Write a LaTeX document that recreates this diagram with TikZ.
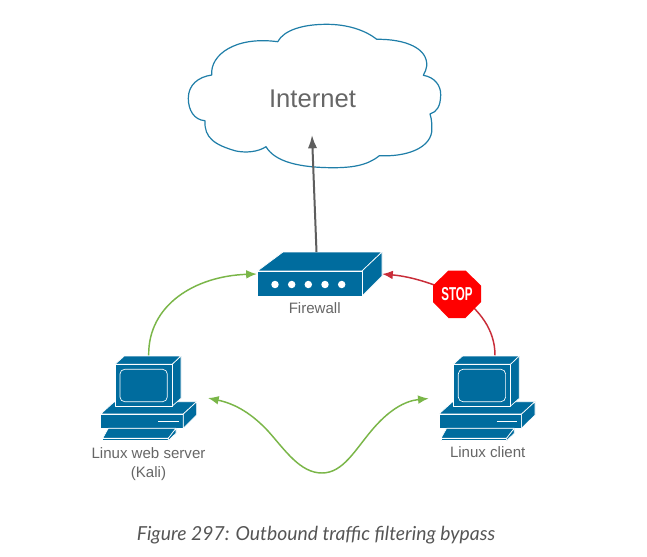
\documentclass[tikz,border=0pt]{standalone}
\usepackage{fontspec}
\usetikzlibrary{arrows.meta,calc}
\newfontfamily\lblfont{Liberation Sans}
\newfontfamily\capfont{Lato}
\definecolor{netblue}{HTML}{006C9E}
\definecolor{cloudline}{HTML}{1F7EA8}
\definecolor{txtgray}{HTML}{666666}
\definecolor{capgray}{HTML}{555555}
\definecolor{lnkgreen}{HTML}{7AB648}
\definecolor{lnkred}{HTML}{C92D39}
\definecolor{lnkgray}{HTML}{5E5E5E}
\definecolor{stopred}{HTML}{FF0000}
\tikzset{
  x=0.75pt,y=-0.75pt,
  face/.style={fill=netblue,draw=white,line width=0.5pt,line join=round},
  lbl/.style={text=txtgray,font=\lblfont\fontsize{11.3}{13}\selectfont,align=center,inner sep=0pt},
  anchorbox/.style={inner sep=0pt,outer sep=0pt,minimum width=#1},
  greenlink/.style={draw=lnkgreen,line width=1.1pt},
  redlink/.style={draw=lnkred,line width=1.1pt},
  graylink/.style={draw=lnkgray,line width=1.5pt,-{Latex[length=10pt,width=7pt]}},
  computer/.pic={
    % base
    \path[face] (114,402) -- (100.7,414) -- (183.3,414) -- (196.7,401.7) -- (180,401.7) -- cycle;
    \path[face] (100.7,414) -- (183.3,414) -- (183.3,428.3) -- (100.7,428.3) -- cycle;
    \path[face] (183.3,414) -- (196.7,401.7) -- (196.7,415) -- (183.3,428.3) -- cycle;
    \draw[white,line width=1pt] (158.3,421.7) -- (179,421.7);
    % keyboard
    \path[face] (108.3,428.3) -- (176,428.3) -- (168.3,438.3) -- (102.7,438.3) -- cycle;
    \path[face] (102.7,438.3) -- (168.3,438.3) -- (168.3,440.7) -- (102.7,440.7) -- cycle;
    \path[face] (168.3,438.3) -- (176,428.3) -- (176,433.3) -- (168.3,440.7) -- cycle;
    % monitor
    \path[face] (115,364.3) -- (124.3,356) -- (181,356) -- (172.3,364.3) -- cycle;
    \path[face] (172.3,364.3) -- (181,356) -- (181,398.3) -- (172.3,406) -- cycle;
    \path[face] (115,364.3) -- (172.3,364.3) -- (172.3,406) -- (115,406) -- cycle;
    \draw[white,line width=0.5pt,rounded corners=3.5pt] (120,369.3) rectangle (167.3,401.7);
  }
}
\begin{document}
\begin{tikzpicture}
\useasboundingbox (0,0) rectangle (647,557);
\fill[white] (0,0) rectangle (647,557);

% cloud
\draw[cloudline,line width=0.9pt,fill=white,line join=round]
  (277.7,41.7) .. controls (284,30) and (303,24.3) .. (326.7,24.3)
  .. controls (347,24.3) and (365,30) .. (376.7,39.3)
  .. controls (405,39) and (428,48) .. (426.7,66)
  .. controls (426.5,69) and (425,72) .. (423.3,75.3)
  .. controls (434,77) and (441,85) .. (440.7,95)
  .. controls (440.5,106) and (437,112) .. (430,114)
  .. controls (432,120) and (432,126) .. (431.7,132)
  .. controls (429,149) and (405,157) .. (379.3,155.7)
  .. controls (367,166) and (350,167.7) .. (333.3,167.7)
  .. controls (300,167.7) and (275,162) .. (266,146.7)
  .. controls (258,152) and (246,153) .. (236,151)
  .. controls (215,145) and (204,138) .. (205,120.7)
  .. controls (194,120) and (188.3,110) .. (188.3,98.3)
  .. controls (188.3,85) and (198,77) .. (211.7,75)
  .. controls (210,55) and (235,36) .. (277.7,41.7) -- cycle;
\node[text=txtgray,font=\lblfont\fontsize{19.2}{22}\selectfont,inner sep=0pt] (internet) at (312.5,98.5) {Internet};
\coordinate (cloudin) at (312,135);

% firewall
\node[anchorbox=94pt,minimum height=33pt] (firewall) at (319.5,274) {};
\path[face] (257.5,271) -- (283,252) -- (382,252) -- (362,271) -- cycle;
\path[face] (362,271) -- (382,252) -- (382,276) -- (362,296) -- cycle;
\path[face] (257.5,271) -- (362,271) -- (362,296) -- (257.5,296) -- cycle;
\foreach \fx in {275,291.7,308.3,325,341.7}
  \fill[white] (\fx,284.5) circle (2.8pt);
\node[lbl] (fwlabel) at (314.7,308.5) {Firewall};

% computers
\node[anchorbox=72.75pt,minimum height=64.5pt] (server) at (148.7,398.3) {};
\pic at (0,0) {computer};
\node[anchorbox=72.75pt,minimum height=64.5pt] (client) at (487,398.3) {};
\pic at (338.3,0) {computer};
\node[lbl,anchor=north] (srvlabel) at (148.5,447) {Linux web server\\[1.5pt](Kali)};
\node[lbl] (clilabel) at (487.7,452.5) {Linux client};

% connectors
\draw[graylink] ($(firewall.north)+(-3,0)$) -- (cloudin);
\draw[greenlink,-{Latex[length=8pt,width=6.5pt]}] (server.north) .. controls (148,305) and (195,276) .. (firewall.west);
\coordinate (wavel) at (208,398);
\coordinate (waver) at (428.7,398.5);
\draw[greenlink,{Latex[length=8pt,width=6.5pt]}-{Latex[length=8pt,width=6.5pt]}]
  (wavel) .. controls (236,404) and (252,414) .. (268,431)
  .. controls (285,450) and (300,473) .. (322,473)
  .. controls (343,473) and (355,450) .. (372,430)
  .. controls (388,411) and (404,401) .. (waver);

% stop sign
\node[inner sep=0pt,minimum size=0pt] (stop) at (457,294) {};
\draw[redlink,-{Latex[length=8pt,width=6.5pt]}] (stop.center) .. controls (425,280) and (405,276) .. (firewall.east);
\draw[redlink] ($(client.north)+(8,0)$) .. controls (495,330) and (480,310) .. (stop.center);
\fill[stopred] (448.5,270.5) -- (465.5,270.5) -- (481,285.5) -- (481,302) -- (465.5,318) -- (448.5,318) -- (433,302) -- (433,285.5) -- cycle;
\node[inner sep=0pt,text=white] (stoptext) at (457,294) {\scalebox{0.62}[1]{\lblfont\fontsize{14}{16}\bfseries\selectfont STOP}};

% caption
\node[inner sep=0pt,text=capgray] (caption) at (316,535.5) {\capfont\itshape\fontsize{14.5}{17}\selectfont Figure 297: Outbound traffic filtering bypass};
\end{tikzpicture}
\end{document}
